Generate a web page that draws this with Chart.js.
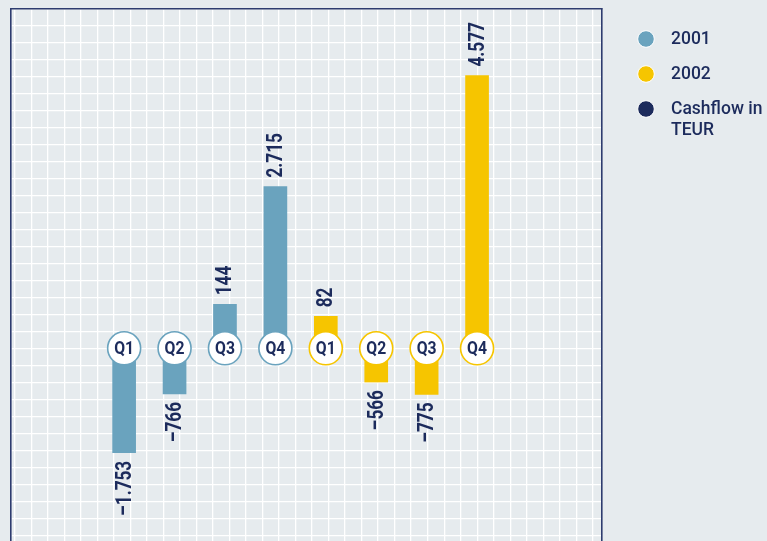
<!DOCTYPE html>
<html>
<head>
<meta charset="utf-8">
<title>Cashflow in TEUR</title>
<script src="https://cdn.jsdelivr.net/npm/chart.js@4/dist/chart.umd.min.js"></script>
<style>
    html, body { margin: 0; padding: 0; background: #e6ebee; }
    #wrap { width: 767px; height: 541px; position: relative; }
</style>
</head>
<body>
<div id="wrap"><canvas id="cashflowChart"></canvas></div>
<script>
// Daten
const quarters = ['Q1', 'Q2', 'Q3', 'Q4'];
const years = ['2001', '2002'];
const cashflow2001 = [-1753, -766, 144, 2715];
const cashflow2002 = [82, -566, -775, 4577];
const legendLabels = [['2001'], ['2002'], ['Cashflow in', 'TEUR']];

// Farben
const blue = '#6aa3be';
const yellow = '#f6c500';
const navy = '#1c2b5c';
const frame = '#2e3c6f';

function formatValue(v) {
    const s = String(Math.abs(v)).replace(/\B(?=(\d{3})+(?!\d))/g, '.');
    return (v < 0 ? '\u2013' : '') + s;
}

function integerTicks(count) {
    return function(axis) {
        axis.ticks = Array.from({ length: count }, (_, k) => ({ value: k }));
    };
}

// Werte-Labels und Quartals-Kreise
const barDecor = {
    id: 'barDecor',
    afterDatasetsDraw(chart) {
        const ctx = chart.ctx;
        const zeroY = chart.scales.y.getPixelForValue(0);
        chart.data.datasets.forEach((ds, di) => {
            const meta = chart.getDatasetMeta(di);
            meta.data.forEach((bar, i) => {
                const v = ds.data[i].y;
                ctx.save();
                ctx.translate(bar.x + 1, v >= 0 ? bar.y - 9 : bar.y + 8);
                ctx.rotate(-Math.PI / 2);
                ctx.scale(0.78, 1);
                ctx.font = 'bold 22px Roboto, sans-serif';
                ctx.fillStyle = navy;
                ctx.textBaseline = 'middle';
                ctx.textAlign = v >= 0 ? 'left' : 'right';
                ctx.fillText(formatValue(v), 0, 0);
                ctx.restore();

                ctx.save();
                ctx.beginPath();
                ctx.arc(bar.x, zeroY, 16.5, 0, Math.PI * 2);
                ctx.fillStyle = '#ffffff';
                ctx.fill();
                ctx.lineWidth = 1.6;
                ctx.strokeStyle = ds.backgroundColor;
                ctx.stroke();
                ctx.translate(bar.x, zeroY + 1);
                ctx.scale(0.9, 1);
                ctx.font = 'bold 17.5px Roboto, sans-serif';
                ctx.fillStyle = navy;
                ctx.textAlign = 'center';
                ctx.textBaseline = 'middle';
                ctx.fillText(quarters[i], 0, 0);
                ctx.restore();
            });
        });
    }
};

// Legende rechts
const sideLegend = {
    id: 'sideLegend',
    afterDraw(chart) {
        const ctx = chart.ctx;
        const colors = [blue, yellow, navy];
        const x = chart.chartArea.right + 44;
        let y = 39;
        ctx.save();
        legendLabels.forEach((lines, k) => {
            ctx.beginPath();
            ctx.arc(x, y, 8.3, 0, Math.PI * 2);
            ctx.fillStyle = colors[k];
            ctx.fill();
            ctx.lineWidth = 1;
            ctx.strokeStyle = '#ffffff';
            ctx.stroke();
            ctx.font = '500 17.5px Roboto, sans-serif';
            ctx.fillStyle = navy;
            ctx.textAlign = 'left';
            ctx.textBaseline = 'middle';
            lines.forEach((line, n) => ctx.fillText(line, x + 25, y + n * 21 + 1));
            y += 35 + (lines.length - 1) * 21;
        });
        ctx.restore();
    }
};

new Chart(document.getElementById('cashflowChart'), {
    type: 'bar',
    data: {
        datasets: [{
            label: years[0],
            data: cashflow2001.map((v, i) => ({ x: i, y: v })),
            backgroundColor: blue,
            barThickness: 23,
            minBarLength: 44,
            grouped: false
        }, {
            label: years[1],
            data: cashflow2002.map((v, i) => ({ x: quarters.length + i, y: v })),
            backgroundColor: yellow,
            barThickness: 23,
            minBarLength: 32,
            grouped: false
        }]
    },
    options: {
        responsive: true,
        maintainAspectRatio: false,
        animation: false,
        layout: { padding: { left: 11, top: 9, right: 165, bottom: 0 } },
        plugins: {
            legend: { display: false },
            tooltip: { enabled: false }
        },
        scales: {
            x: { type: 'linear', display: false, offset: false, min: -2.244, max: 9.478 },
            y: { type: 'linear', display: false, min: -3233, max: 5693 },
            gx: {
                type: 'linear', axis: 'x', position: 'top',
                min: -0.2176, max: 34.547,
                afterBuildTicks: integerTicks(35),
                ticks: { display: false },
                grid: { color: '#ffffff', lineWidth: 1.3, drawTicks: false },
                border: { color: frame, width: 1.6 }
            },
            gy: {
                type: 'linear', axis: 'y', position: 'left', reverse: true,
                min: 0, max: 31.29,
                afterBuildTicks: integerTicks(32),
                ticks: { display: false },
                grid: { color: '#ffffff', lineWidth: 1.3, drawTicks: false },
                border: { color: frame, width: 1.6 }
            },
            gr: {
                type: 'linear', axis: 'y', position: 'right',
                min: 0, max: 1,
                ticks: { display: false },
                grid: { display: false, drawTicks: false },
                border: { color: frame, width: 1.6 }
            }
        }
    },
    plugins: [barDecor, sideLegend]
});
</script>
</body>
</html>
